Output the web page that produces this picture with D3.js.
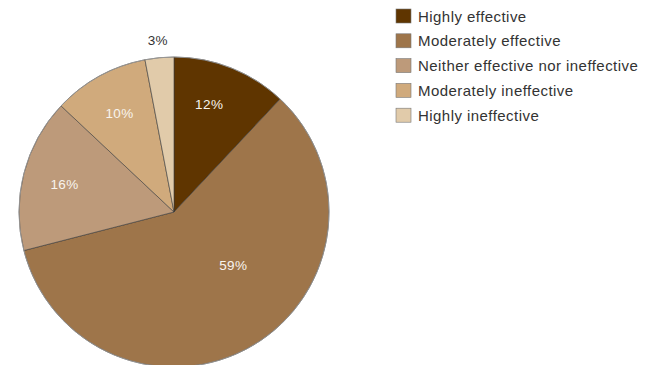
<!DOCTYPE html>
<html>
<head>
<meta charset="utf-8">
<script src="https://cdn.jsdelivr.net/npm/d3@7"></script>
<style>
  body { margin: 0; background: #fff; }
  text { font-family: "Liberation Sans", Arial, sans-serif; }
</style>
</head>
<body>
<svg id="chart" width="646" height="365"></svg>
<script>
// Categories and their shares (percent)
var categories = ["Highly effective", "Moderately effective", "Neither effective nor ineffective",
                  "Moderately ineffective", "Highly ineffective"];
var shares = [12, 59, 16, 10, 3];
var colors = ["#5f3500", "#9e754a", "#bd9a7a", "#d0aa7c", "#e1cbaa"];

var svg = d3.select("#chart"),
    cx = 174,
    cy = 212,
    radius = 155;

var pieData = categories.map(function (c, i) {
    return { name: c, value: shares[i], color: colors[i] };
});

var pie = d3.pie()
    .sort(null)
    .value(function (d) { return d.value; });

var arc = d3.arc().innerRadius(0).outerRadius(radius);

var g = svg.append("g")
    .attr("transform", "translate(" + cx + "," + cy + ")");

var slices = pie(pieData);

g.selectAll("path")
    .data(slices)
    .enter()
    .append("path")
    .attr("d", arc)
    .attr("fill", function (d) { return d.data.color; })
    .attr("stroke", "#3a3a3a")
    .attr("stroke-width", 0.6);

// light grey rim round the pie
g.append("circle")
    .attr("r", radius)
    .attr("fill", "none")
    .attr("stroke", "#9a9a9a")
    .attr("stroke-width", 0.8);

// labels: inside for most slices, outside for the tiny one
g.selectAll("text.lbl")
    .data(slices)
    .enter()
    .append("text")
    .attr("class", "lbl")
    .attr("transform", function (d) {
        var mid = (d.startAngle + d.endAngle) / 2,
            r = 113;
        if (d.data.value < 5) r = radius + 17;
        // the biggest slice gets its label pulled in towards the centre
        if (d.data.value > 50) { r = 80; mid = mid - 0.3; }
        // first slice label sits a bit nearer the 12 o'clock edge
        if (d.index === 0) mid = mid - 0.06;
        return "translate(" + (Math.sin(mid) * r) + "," + (-Math.cos(mid) * r) + ")";
    })
    .attr("text-anchor", "middle")
    .attr("dy", "0.35em")
    .style("font-size", "13.5px")
    .style("letter-spacing", "0.4px")
    .attr("fill", function (d) { return d.data.value < 5 ? "#333" : "#f8f4ee"; })
    .text(function (d) { return d.data.value + "%"; });

// Legend
var legend = svg.append("g")
    .attr("transform", "translate(396,9)");

var rows = legend.selectAll("g")
    .data(pieData)
    .enter()
    .append("g")
    .attr("transform", function (d, i) { return "translate(0," + (i * 24.8) + ")"; });

rows.append("rect")
    .attr("width", 15)
    .attr("height", 14)
    .attr("fill", function (d) { return d.color; })
    .attr("stroke", "#777")
    .attr("stroke-width", 0.6);

rows.append("text")
    .attr("x", 22)
    .attr("y", 12.5)
    .style("font-size", "15px")
    .style("letter-spacing", "0.45px")
    .attr("fill", "#333")
    .text(function (d) { return d.name; });
</script>
</body>
</html>
